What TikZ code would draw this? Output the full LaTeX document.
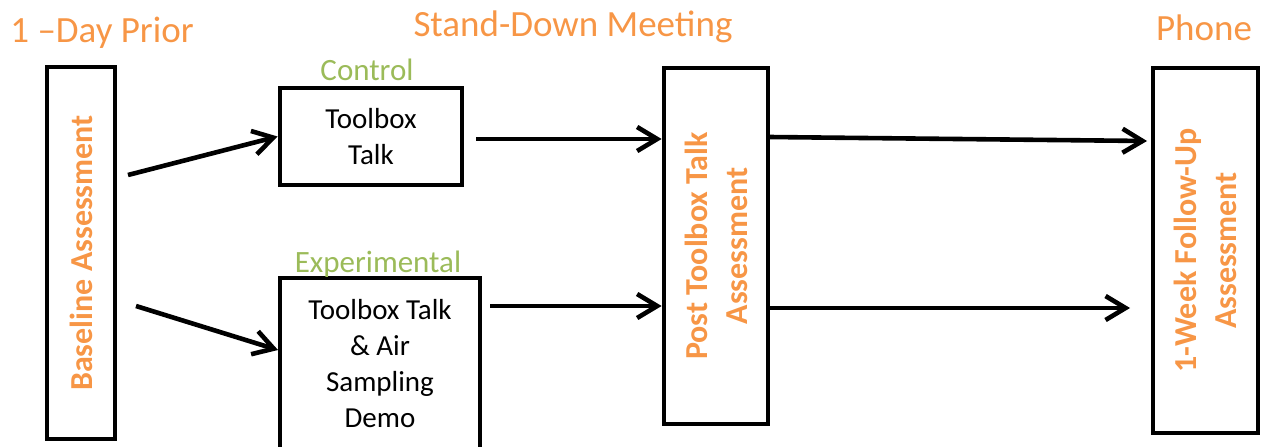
\documentclass[tikz,border=0pt]{standalone}
\usepackage{fontspec}
\setmainfont{Carlito}
\usepackage{tikz}
\usetikzlibrary{calc,arrows.meta,positioning}
\definecolor{phaseorange}{RGB}{247,150,70}
\definecolor{groupgreen}{RGB}{155,187,89}

\begin{document}
\begin{tikzpicture}[x=0.5pt,y=-0.5pt,
	box/.style={draw, line width=2.4pt, inner sep=0pt, align=center},
	boxtext/.style={align=center, inner sep=0pt, font=\fontsize{14.5}{18}\selectfont},
	vtext/.style={rotate=90, align=center, inner sep=0pt, text=phaseorange, font=\fontsize{16}{20}\selectfont\bfseries},
	phase/.style={anchor=base, inner sep=0pt, text=phaseorange, font=\fontsize{18.5}{22}\selectfont},
	group/.style={anchor=base, inner sep=0pt, text=groupgreen, font=\fontsize{15.5}{18}\selectfont},
	arr/.style={line width=2.3pt, -{Straight Barb[length=10pt,width=12pt,line width=2.3pt]}}]
	\useasboundingbox (0,0) rectangle (1262,446);
	\clip (0,0) rectangle (1262,446);
	
	\node[box, minimum width=34pt, minimum height=186pt] (base) at (81,253) {};
	\node[box, minimum width=91pt, minimum height=48.5pt] (ctrl) at (371,136.5) {};
	\node[box, minimum width=100pt, minimum height=86pt] (expt) at (380,364) {};
	\node[box, minimum width=52pt, minimum height=178pt] (post) at (716,246) {};
	\node[box, minimum width=52.5pt, minimum height=182.5pt] (phone) at (1205.5,250.5) {};
	
	\node[vtext] (baselbl) at (base.center) {Baseline Assessment};
	\node[boxtext] (ctrllbl) at (ctrl.center) {Toolbox\\Talk};
	\node[boxtext] (exptlbl) at (expt.center) {Toolbox Talk\\\& Air\\Sampling\\Demo};
	\node[vtext] (postlbl) at (post.center) {Post Toolbox Talk\\Assessment};
	\node[vtext] (phonelbl) at (phone.center) {1-Week Follow-Up\\Assessment};
	
	\node[phase, anchor=base west] (prior) at (10,42) {1 –Day Prior};
	\node[phase] (meeting) at (573,36) {Stand-Down Meeting};
	\node[phase] (phonecall) at (1204,40) {Phone};
	\node[group] (ctrlhead) at (367,80) {Control};
	\node[group] (expthead) at (378,272) {Experimental};
	
	\path (128,175) coordinate (b1s);
	\path (136,306) coordinate (b2s);
	\path (278,350) coordinate (b2e);
	\path (476,139) coordinate (c1s);
	\path (490,306) coordinate (e1s);
	\path (770,137) coordinate (p1s);
	\path (1147,141) coordinate (p1e);
	\path (770,308) coordinate (p2s);
	\path (1130,308) coordinate (p2e);
	
	\draw[arr] (b1s) -- (ctrl.west);
	\draw[arr] (b2s) -- (b2e);
	\draw[arr] (c1s) -- (c1s -| post.west);
	\draw[arr] (e1s) -- (e1s -| post.west);
	\draw[arr] (p1s) -- (p1e);
	\draw[arr] (p2s) -- (p2e);
\end{tikzpicture}
\end{document}
